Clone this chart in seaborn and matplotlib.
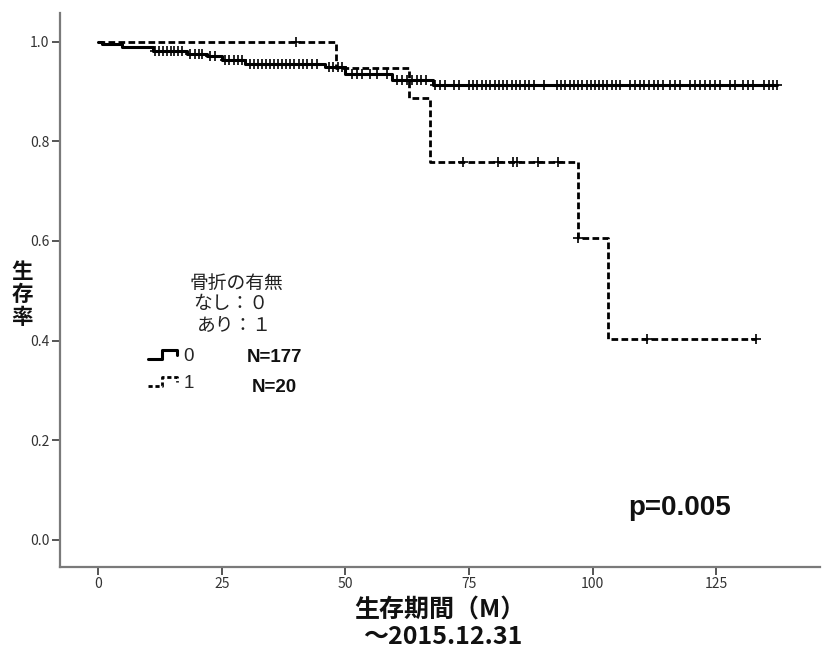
import numpy as np
import pandas as pd
import matplotlib
matplotlib.use("Agg")
import matplotlib.pyplot as plt
import seaborn as sns
from matplotlib.lines import Line2D
from matplotlib.legend_handler import HandlerBase

# ---------------- data ----------------
group_labels = ["0", "1"]
group_n = ["N=177", "N=20"]

# group 0 (no fracture): step start times and survival levels
g0_times = [0, 0.75, 4.8, 11.2, 17.9, 22.0, 25.0, 29.7, 45.9, 50.0, 59.4, 67.8]
g0_surv = [1.0, 0.995, 0.990, 0.982, 0.976, 0.971, 0.964, 0.956, 0.949, 0.935, 0.924, 0.914]
g0_end = 137.3
g0_censor = [11.6, 12.4, 13.1, 13.9, 14.7, 15.4, 16.1, 16.9,
             18.6, 19.6, 20.4, 21.1, 22.6, 23.7,
             25.7, 26.5, 27.4, 28.2, 29.2,
             30.7, 31.5, 32.3, 33.2, 34.0, 34.8, 35.6, 36.4, 37.2, 38.0, 38.9,
             39.7, 40.6, 41.5, 42.3, 43.3, 44.3,
             46.8, 47.6, 48.5, 49.3,
             51.3, 52.3, 53.3, 54.9, 56.4, 58.4,
             60.4, 61.4, 62.4, 63.4, 64.4, 65.4, 66.4,
             68.2, 69.2, 70.2, 71.9, 72.9,
             75.0, 75.9, 76.7, 77.6, 78.5, 79.3, 80.2, 81.1, 81.9, 82.8, 83.7,
             84.5, 85.4, 86.3, 87.2, 88.1, 90.1,
             92.8, 93.7, 94.5, 95.4, 96.2, 97.1, 97.9, 98.8, 99.6, 100.5, 101.3,
             102.2, 103.0, 103.9, 104.7, 105.6,
             107.6, 108.6, 109.5, 110.5, 111.4, 112.4, 113.3, 114.3,
             115.7, 116.7, 117.7,
             119.7, 120.7, 121.7, 122.7, 123.8, 124.8, 125.8,
             127.8, 128.8, 130.5, 131.5, 132.5, 134.6, 135.6, 136.4, 137.3]

# group 1 (fracture)
g1_times = [0, 48.1, 62.9, 67.2, 97.1, 103.2]
g1_surv = [1.0, 0.947, 0.887, 0.758, 0.606, 0.404]
g1_end = 133.1
g1_censor = [40.0, 73.8, 80.9, 83.9, 84.7, 89.0, 93.0, 97.1, 111.0, 133.1]

x_ticks = [0, 25, 50, 75, 100, 125]
y_ticks = [0.0, 0.2, 0.4, 0.6, 0.8, 1.0]
y_tick_labels = ["0.0", "0.2", "0.4", "0.6", "0.8", "1.0"]

# ---------------- build tables ----------------
def step_frame(times, surv, end, label):
    t = list(times) + [end]
    s = list(surv) + [surv[-1]]
    return pd.DataFrame({"time": t, "surv": s, "group": label})

def censor_frame(times, surv, ctimes, label):
    idx = np.searchsorted(np.array(times), np.array(ctimes), side="right") - 1
    return pd.DataFrame({"time": ctimes, "surv": np.array(surv)[idx], "group": label})

curves = pd.concat([step_frame(g0_times, g0_surv, g0_end, "0"),
                    step_frame(g1_times, g1_surv, g1_end, "1")], ignore_index=True)
cens = pd.concat([censor_frame(g0_times, g0_surv, g0_censor, "0"),
                  censor_frame(g1_times, g1_surv, g1_censor, "1")], ignore_index=True)

# ---------------- style ----------------
sns.set_style("ticks")
plt.rcParams["font.family"] = ["Liberation Sans Narrow", "Noto Sans CJK JP", "DejaVu Sans"]

W, H = 822, 650
fig = plt.figure(figsize=(W / 100, H / 100), dpi=100)
ax = fig.add_axes([60 / W, (H - 567) / H, (820 - 60) / W, (567 - 13) / H])

sns.lineplot(data=curves, x="time", y="surv", style="group", size="group",
             sizes={"0": 2.2, "1": 2.0},
             dashes={"0": "", "1": (2.4, 1.2)}, color="black",
             drawstyle="steps-post", estimator=None, sort=False,
             legend=False, ax=ax)
sns.scatterplot(data=cens, x="time", y="surv", marker="+", color="black",
                s=45, linewidth=1.2, legend=False, ax=ax, zorder=3)

ax.set_xlim(-7.7, 146)
ax.set_ylim(-0.055, 1.058)
ax.set_xticks(x_ticks)
ax.set_xticklabels([str(v) for v in x_ticks])
ax.set_yticks(y_ticks)
ax.set_yticklabels(y_tick_labels)
ax.set_xlabel("")
ax.set_ylabel("")
for side in ["top", "right"]:
    ax.spines[side].set_visible(False)
for side in ["left", "bottom"]:
    ax.spines[side].set_color("#7a7a7a")
    ax.spines[side].set_linewidth(1.6)
ax.tick_params(axis="both", direction="out", length=6, width=1.4, color="#555555",
               labelsize=10, labelcolor="#333333", pad=1.5)

# ---------------- legend with step-shaped glyphs ----------------
class StepHandler(HandlerBase):
    def create_artists(self, legend, orig_handle, xdescent, ydescent,
                       width, height, fontsize, trans):
        xs = np.array([0.0, 0.4, 0.4, 0.85, 0.85]) * width - xdescent
        ys = np.array([0.15, 0.15, 0.85, 0.85, 0.45]) * height - ydescent
        line = Line2D(xs, ys)
        line.update_from(orig_handle)
        line.set_transform(trans)
        return [line]

h0 = Line2D([], [], color="black", linewidth=2.2, linestyle="-")
h1 = Line2D([], [], color="black", linewidth=2.0, linestyle=(0, (1.5, 1.0)))
leg = ax.legend([h0, h1], group_labels, handler_map={Line2D: StepHandler()},
                loc="center left", bbox_to_anchor=(148 / W, 1 - 370 / H),
                bbox_transform=fig.transFigure, frameon=False,
                borderpad=0, borderaxespad=0, handlelength=1.8, handletextpad=0.1,
                labelspacing=0.5,
                prop={"family": ["Liberation Sans", "DejaVu Sans"], "size": 13.5})

def fx(px):
    return px / W

def fy(py):
    return 1 - py / H

cjk = ["Noto Sans CJK JP", "DejaVu Sans"]
fig.text(fx(236), fy(283), "骨折の有無", ha="center", va="center", fontsize=13.5, family=cjk, color="#222222")
fig.text(fx(231), fy(304), "なし：０", ha="center", va="center", fontsize=13.5, family=cjk, color="#222222")
fig.text(fx(234), fy(325), "あり：１", ha="center", va="center", fontsize=13.5, family=cjk, color="#222222")

fig.text(fx(274), fy(358), group_n[0], ha="center", va="center", fontsize=13.5,
         fontweight="bold", family=["Liberation Sans", "DejaVu Sans"], color="#111111")
fig.text(fx(274), fy(387), group_n[1], ha="center", va="center", fontsize=13.5,
         fontweight="bold", family=["Liberation Sans", "DejaVu Sans"], color="#111111")

fig.text(fx(680), fy(508), "p=0.005", ha="center", va="center", fontsize=20,
         fontweight="bold", family=["Liberation Sans", "DejaVu Sans"], color="#111111")

# y label, stacked characters
for ch, py in zip("生存率", [272, 295, 318]):
    fig.text(fx(22), fy(py), ch, ha="center", va="center", fontsize=15.5,
             fontweight="bold", family=cjk, color="#111111")

# x label
fig.text(fx(440), fy(610), "生存期間（M）", ha="center", va="center", fontsize=18,
         fontweight="bold", family=["Liberation Sans Narrow", "Noto Sans CJK JP", "DejaVu Sans"],
         color="#111111")
fig.text(fx(443), fy(637), "～2015.12.31", ha="center", va="center", fontsize=18,
         fontweight="bold", family=["Liberation Sans Narrow", "Noto Sans CJK JP", "DejaVu Sans"],
         color="#111111")

fig.savefig("out.png", dpi=100)
